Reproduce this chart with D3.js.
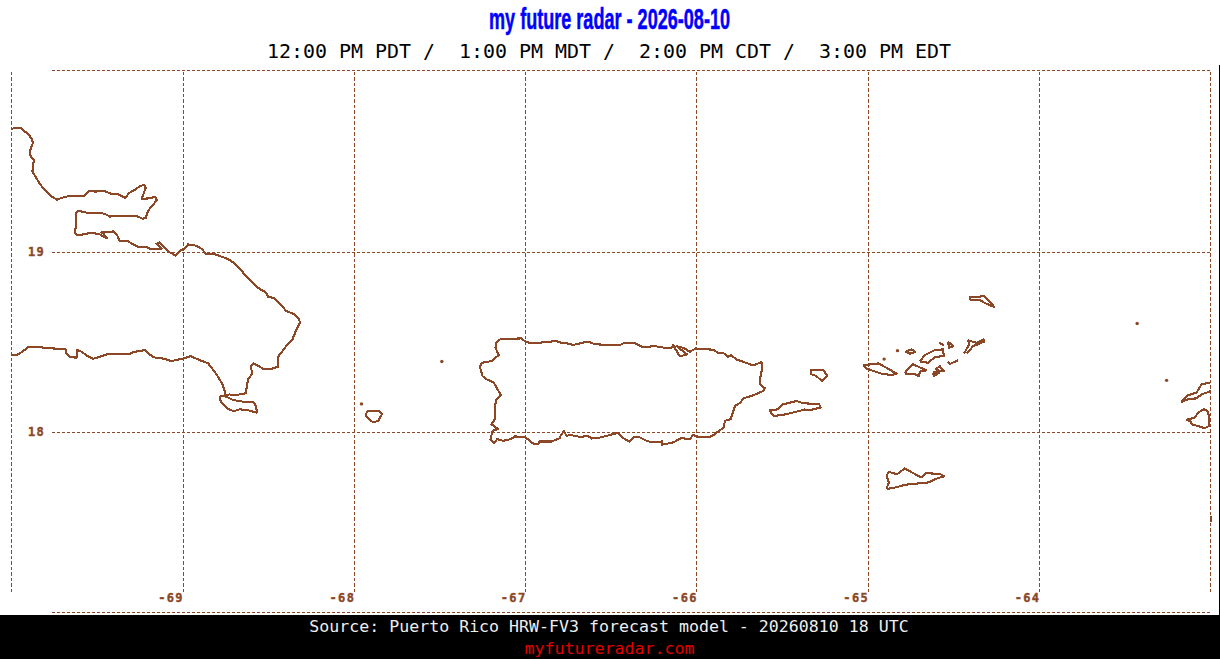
<!DOCTYPE html>
<html>
<head>
<meta charset="utf-8">
<title>my future radar</title>
<script src="https://cdn.jsdelivr.net/npm/d3@7"></script>
<style>
  body { margin: 0; background: #fff; overflow: hidden; }
  svg { display: block; }
  text { white-space: pre; }
</style>
</head>
<body>
<script>
const titleText = 'my future radar - 2026-08-10'
const timesText = '12:00 PM PDT /  1:00 PM MDT /  2:00 PM CDT /  3:00 PM EDT'
const sourceText = 'Source: Puerto Rico HRW-FV3 forecast model - 20260810 18 UTC'
const siteText = 'myfutureradar.com'

const lonTicks = [-70, -69, -68, -67, -66, -65, -64, -63]
const lonLabels = ['', '-69', '-68', '-67', '-66', '-65', '-64', '']
const latTicks = [17, 18, 19, 20.011]
const latLabels = ['', '18', '19', '']

// coast outlines, [lon, lat]
const hispaniola = [[-69.998,19.683],[-69.979,19.690],[-69.940,19.689],[-69.926,19.674],[-69.901,19.655],[-69.878,19.626],[-69.874,19.604],[-69.887,19.571],[-69.891,19.539],[-69.868,19.511],[-69.876,19.447],[-69.849,19.404],[-69.829,19.373],[-69.794,19.336],[-69.759,19.305],[-69.732,19.290],[-69.706,19.301],[-69.658,19.312],[-69.574,19.312],[-69.545,19.341],[-69.512,19.336],[-69.454,19.338],[-69.414,19.323],[-69.376,19.321],[-69.335,19.302],[-69.308,19.330],[-69.278,19.345],[-69.253,19.363],[-69.226,19.373],[-69.214,19.358],[-69.226,19.327],[-69.239,19.295],[-69.181,19.299],[-69.162,19.308],[-69.150,19.290],[-69.171,19.262],[-69.201,19.230],[-69.214,19.190],[-69.233,19.184],[-69.259,19.197],[-69.327,19.201],[-69.395,19.201],[-69.424,19.197],[-69.454,19.212],[-69.493,19.219],[-69.561,19.219],[-69.610,19.229],[-69.621,19.219],[-69.619,19.161],[-69.629,19.109],[-69.613,19.092],[-69.561,19.101],[-69.532,19.107],[-69.483,19.098],[-69.440,19.075],[-69.460,19.101],[-69.473,19.109],[-69.405,19.114],[-69.380,19.090],[-69.366,19.059],[-69.318,19.059],[-69.259,19.028],[-69.210,19.028],[-69.191,19.018],[-69.122,19.018],[-69.152,19.046],[-69.136,19.053],[-69.113,19.035],[-69.084,19.003],[-69.039,18.980],[-69.010,19.009],[-68.991,19.017],[-68.968,19.042],[-68.919,19.035],[-68.889,19.018],[-68.864,18.991],[-68.822,18.991],[-68.734,18.961],[-68.705,18.942],[-68.666,18.906],[-68.612,18.850],[-68.559,18.801],[-68.510,18.773],[-68.501,18.751],[-68.468,18.745],[-68.413,18.695],[-68.397,18.673],[-68.355,18.658],[-68.325,18.634],[-68.314,18.610],[-68.335,18.570],[-68.358,18.514],[-68.397,18.474],[-68.442,18.418],[-68.440,18.363],[-68.491,18.348],[-68.530,18.352],[-68.584,18.381],[-68.603,18.366],[-68.592,18.326],[-68.617,18.293],[-68.631,18.215],[-68.666,18.209],[-68.695,18.204],[-68.728,18.209],[-68.747,18.197],[-68.751,18.219],[-68.766,18.265],[-68.801,18.320],[-68.850,18.381],[-68.899,18.399],[-68.953,18.422],[-68.996,18.407],[-69.044,18.399],[-69.064,18.392],[-69.103,18.407],[-69.151,18.411],[-69.175,18.418],[-69.220,18.455],[-69.259,18.449],[-69.297,18.440],[-69.311,18.431],[-69.443,18.431],[-69.482,18.418],[-69.521,18.407],[-69.556,18.422],[-69.589,18.446],[-69.615,18.455],[-69.617,18.413],[-69.654,18.416],[-69.677,18.437],[-69.681,18.459],[-69.726,18.463],[-69.804,18.466],[-69.823,18.471],[-69.901,18.471],[-69.931,18.449],[-69.960,18.431],[-69.998,18.425]]
const saona = [[-68.780,18.200],[-68.778,18.172],[-68.741,18.132],[-68.700,18.115],[-68.667,18.126],[-68.619,18.121],[-68.566,18.108],[-68.570,18.145],[-68.589,18.167],[-68.638,18.167],[-68.706,18.178],[-68.745,18.197],[-68.780,18.200]]
const mona = [[-67.932,18.095],[-67.920,18.115],[-67.852,18.117],[-67.835,18.099],[-67.858,18.062],[-67.887,18.053],[-67.916,18.075],[-67.932,18.095]]
const puertoRico = [[-67.144,18.516],[-67.021,18.520],[-67.002,18.505],[-66.963,18.492],[-66.821,18.505],[-66.787,18.496],[-66.739,18.490],[-66.723,18.483],[-66.651,18.499],[-66.622,18.499],[-66.593,18.488],[-66.515,18.483],[-66.447,18.483],[-66.428,18.492],[-66.355,18.492],[-66.314,18.471],[-66.243,18.477],[-66.174,18.466],[-66.145,18.468],[-66.136,18.483],[-66.097,18.420],[-66.054,18.431],[-66.116,18.477],[-66.077,18.468],[-66.038,18.446],[-66.003,18.464],[-65.902,18.457],[-65.873,18.440],[-65.844,18.440],[-65.815,18.418],[-65.799,18.427],[-65.765,18.403],[-65.668,18.370],[-65.619,18.388],[-65.616,18.357],[-65.629,18.293],[-65.626,18.261],[-65.600,18.243],[-65.610,18.228],[-65.645,18.213],[-65.678,18.200],[-65.727,18.187],[-65.742,18.163],[-65.775,18.145],[-65.789,18.103],[-65.800,18.071],[-65.834,18.062],[-65.840,18.025],[-65.873,18.003],[-65.892,17.988],[-65.925,17.971],[-65.990,17.973],[-66.019,17.984],[-66.038,17.960],[-66.087,17.966],[-66.136,17.942],[-66.203,17.929],[-66.198,17.951],[-66.213,17.942],[-66.256,17.942],[-66.291,17.951],[-66.340,17.975],[-66.369,17.970],[-66.389,17.947],[-66.418,17.960],[-66.460,17.995],[-66.525,17.978],[-66.574,17.967],[-66.612,17.964],[-66.632,17.977],[-66.681,17.973],[-66.739,17.984],[-66.758,17.978],[-66.774,18.006],[-66.793,17.978],[-66.797,17.966],[-66.846,17.947],[-66.918,17.947],[-66.924,17.932],[-66.953,17.936],[-67.002,17.973],[-67.060,17.975],[-67.085,17.960],[-67.128,17.951],[-67.164,17.960],[-67.179,17.938],[-67.202,17.960],[-67.190,18.006],[-67.158,18.016],[-67.196,18.043],[-67.177,18.071],[-67.177,18.108],[-67.171,18.176],[-67.142,18.206],[-67.167,18.247],[-67.183,18.274],[-67.225,18.293],[-67.249,18.311],[-67.265,18.366],[-67.249,18.385],[-67.196,18.394],[-67.154,18.427],[-67.173,18.468],[-67.167,18.496],[-67.144,18.516]]
const vieques = [[-65.575,18.121],[-65.548,18.089],[-65.474,18.099],[-65.367,18.125],[-65.342,18.121],[-65.274,18.136],[-65.283,18.154],[-65.377,18.160],[-65.415,18.172],[-65.494,18.154],[-65.523,18.126],[-65.575,18.121]]
const culebra = [[-65.334,18.342],[-65.260,18.344],[-65.234,18.311],[-65.269,18.283],[-65.299,18.311],[-65.328,18.320],[-65.334,18.342]]
const stThomas = [[-65.027,18.370],[-64.939,18.381],[-64.890,18.357],[-64.832,18.324],[-64.861,18.316],[-64.919,18.324],[-64.968,18.339],[-65.007,18.353],[-65.027,18.370]]
const jostVanDyke = [[-64.779,18.446],[-64.744,18.459],[-64.721,18.444],[-64.754,18.435],[-64.779,18.446]]
const tortola = [[-64.696,18.391],[-64.667,18.427],[-64.608,18.455],[-64.560,18.459],[-64.556,18.422],[-64.608,18.416],[-64.647,18.385],[-64.696,18.391]]
const stJohn = [[-64.783,18.335],[-64.735,18.376],[-64.657,18.342],[-64.696,18.335],[-64.700,18.311],[-64.735,18.324],[-64.773,18.320],[-64.783,18.335]]
const peter = [[-64.604,18.348],[-64.579,18.366],[-64.556,18.339],[-64.589,18.342],[-64.604,18.348]]
const norman = [[-64.618,18.331],[-64.583,18.330],[-64.614,18.311],[-64.618,18.331]]
const cooper = [[-64.534,18.391],[-64.521,18.376],[-64.505,18.385],[-64.472,18.398]]
const guana = [[-64.583,18.496],[-64.556,18.481]]
const scrub = [[-64.530,18.501],[-64.501,18.477],[-64.526,18.468],[-64.530,18.501]]
const virginGorda = [[-64.437,18.437],[-64.408,18.486],[-64.414,18.509],[-64.365,18.496],[-64.322,18.514],[-64.322,18.501],[-64.384,18.477],[-64.423,18.437]]
const anegada = [[-64.408,18.748],[-64.322,18.754],[-64.287,18.726],[-64.262,18.695],[-64.306,18.712],[-64.345,18.732],[-64.400,18.736],[-64.408,18.748]]
const stCroix = [[-64.890,17.683],[-64.877,17.720],[-64.890,17.757],[-64.877,17.779],[-64.848,17.770],[-64.828,17.766],[-64.783,17.798],[-64.744,17.776],[-64.686,17.748],[-64.662,17.772],[-64.575,17.766],[-64.554,17.754],[-64.589,17.744],[-64.647,17.720],[-64.783,17.707],[-64.832,17.693],[-64.890,17.683]]
const stMartin = [[-63.001,18.274],[-63.051,18.265],[-63.080,18.219],[-63.129,18.204],[-63.168,18.167],[-63.129,18.182],[-63.080,18.187],[-63.051,18.209],[-63.012,18.222],[-62.997,18.228]]
const stBarts = [[-63.143,18.067],[-63.090,18.080],[-63.071,18.108],[-63.038,18.126],[-63.018,18.117],[-63.007,18.089],[-63.007,18.034],[-63.032,18.021],[-63.061,18.030],[-63.109,18.043],[-63.115,18.061],[-63.143,18.067]]
const edgeTick = [[-62.997,17.533],[-62.997,17.500]]
const islets = [[-67.955,18.156],[-67.486,18.392],[-64.904,18.405],[-64.826,18.452],[-63.427,18.603],[-63.255,18.287]]

const coasts = [hispaniola, saona, mona, puertoRico, vieques, culebra, stThomas, jostVanDyke,
  tortola, stJohn, peter, norman, cooper, guana, scrub, virginGorda, anegada, stCroix,
  stMartin, stBarts, edgeTick]

const brown = '#8b4726'
const width = 1220
const height = 659

const svg = d3.select('body').append('svg')
  .attr('width', width)
  .attr('height', height)

const x = d3.scaleLinear().domain([-70, -63]).range([11.2, 1210.3])
const y = d3.scaleLinear().domain([18, 19]).range([432, 252])

svg.append('rect').attr('width', width).attr('height', height).attr('fill', '#fff')
svg.append('rect').attr('y', 615).attr('width', width).attr('height', height - 615).attr('fill', '#000')
svg.append('rect').attr('x', 1219).attr('y', 65).attr('width', 1).attr('height', 550).attr('fill', '#000')

// grid
const xAxis = d3.axisBottom(x)
  .tickValues(lonTicks)
  .tickFormat((d, i) => lonLabels[i])
  .tickSize(-522)
svg.append('g')
  .attr('transform', 'translate(0,592)')
  .call(xAxis)
  .call(g => g.select('.domain').remove())
  .call(g => g.selectAll('line').attr('stroke', brown).attr('stroke-dasharray', '3.5,2'))
  .call(g => g.selectAll('text')
    .attr('y', 1).attr('dy', '0.71em').attr('text-anchor', 'end').attr('x', 1))

const yAxis = d3.axisLeft(y)
  .tickValues(latTicks)
  .tickFormat((d, i) => latLabels[i])
  .tickSize(-1158.5)
svg.append('g')
  .attr('transform', 'translate(52,0)')
  .call(yAxis)
  .call(g => g.select('.domain').remove())
  .call(g => g.selectAll('line').attr('stroke', brown).attr('stroke-dasharray', '3,2'))
  .call(g => g.selectAll('text').attr('x', -24).attr('text-anchor', 'start'))

svg.selectAll('.tick text')
  .attr('fill', brown)
  .attr('stroke', brown)
  .attr('stroke-width', 0.4)
  .style('font-family', '"DejaVu Sans Mono", monospace')
  .style('font-weight', 'bold')
  .style('font-size', '12px')
  .style('letter-spacing', '1.4px')

svg.selectAll('.tick line').style('shape-rendering', 'crispEdges')

// coast
const line = d3.line().x(d => x(d[0])).y(d => y(d[1]))
svg.append('g').selectAll('path')
  .data(coasts)
  .join('path')
  .attr('d', line)
  .attr('fill', 'none')
  .attr('stroke', brown)
  .attr('stroke-width', 2.1)
  .attr('stroke-linejoin', 'round')
  .style('shape-rendering', 'crispEdges')

svg.append('g').selectAll('circle')
  .data(islets)
  .join('circle')
  .attr('cx', d => x(d[0]))
  .attr('cy', d => y(d[1]))
  .attr('r', 1.7)
  .attr('fill', brown)

// titles
svg.append('text')
  .attr('x', 609.5).attr('y', 29)
  .attr('text-anchor', 'middle')
  .attr('textLength', 241)
  .attr('lengthAdjust', 'spacingAndGlyphs')
  .attr('fill', '#0000ff')
  .attr('stroke', '#0000ff')
  .attr('stroke-width', 0.5)
  .style('font-family', '"Liberation Sans Narrow", "Liberation Sans", sans-serif')
  .style('font-weight', 'bold')
  .style('font-size', '29px')
  .text(titleText)

svg.append('text')
  .attr('x', 609).attr('y', 58)
  .attr('text-anchor', 'middle')
  .attr('fill', '#000')
  .style('font-family', '"DejaVu Sans Mono", monospace')
  .style('font-size', '19.95px')
  .text(timesText)

svg.append('text')
  .attr('x', 609).attr('y', 632)
  .attr('text-anchor', 'middle')
  .attr('fill', '#eee')
  .style('font-family', '"DejaVu Sans Mono", monospace')
  .style('font-size', '16.6px')
  .text(sourceText)

svg.append('text')
  .attr('x', 609.5).attr('y', 654)
  .attr('text-anchor', 'middle')
  .attr('fill', '#e00000')
  .style('font-family', '"DejaVu Sans Mono", monospace')
  .style('font-size', '16.6px')
  .text(siteText)
</script>
</body>
</html>
